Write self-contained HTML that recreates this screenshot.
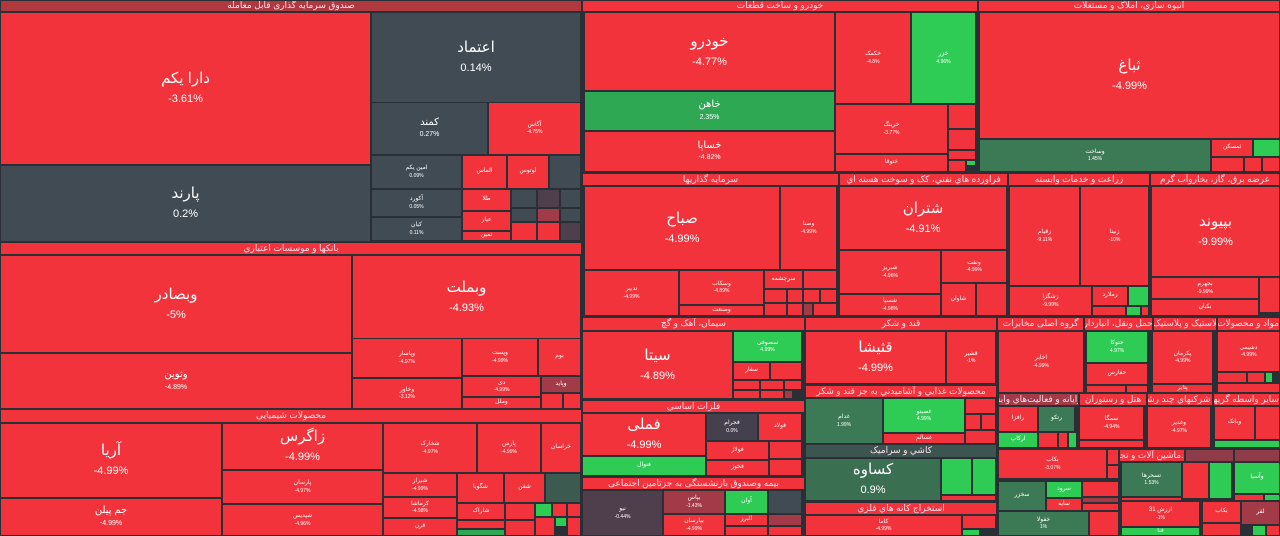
<!DOCTYPE html>
<html><head><meta charset="utf-8"><style>
body{margin:0;width:1280px;height:536px;background:#2a2f36;overflow:hidden;position:relative;font-family:"Liberation Sans","DejaVu Sans",sans-serif}
.c{position:absolute;box-sizing:border-box;border:1px solid #2a2f36;color:#fff;display:flex;flex-direction:column;align-items:center;justify-content:center;text-align:center;overflow:hidden;line-height:1.25;white-space:nowrap}
.r{background:#f3333b}.g{background:#414b53}.G{background:#2ecc55}.d{background:#3b7a55}.m{background:#2fa854}.p{background:#a33a47}.q{background:#4f3f4c}.k{background:#3d5550}
.h{font-size:9px;color:#fde}
.b b{font-size:15px;font-weight:normal}.b i{font-size:11px;font-style:normal;margin-top:4px}
.n b{font-size:10px;font-weight:normal}.n i{font-size:7px;font-style:normal;margin-top:2px}
.s b{font-size:6px;font-weight:normal}.s i{font-size:5px;font-style:normal}
</style></head><body>
<!-- Funds -->
<div class="c h" style="left:0;top:0;width:582px;height:12px;background:#b0393f">صندوق سرمایه گذاری قابل معامله</div>
<div class="c r b" style="left:0;top:12px;width:371px;height:153px"><b>دارا یکم</b><i>-3.61%</i></div>
<div class="c g b" style="left:0;top:165px;width:371px;height:77px"><b>پارند</b><i>0.2%</i></div>
<div class="c g b" style="left:371px;top:12px;width:210px;height:91px"><b>اعتماد</b><i>0.14%</i></div>
<div class="c g n" style="left:371px;top:102px;width:117px;height:53px"><b>کمند</b><i>0.27%</i></div>
<div class="c r s" style="left:488px;top:102px;width:93px;height:53px"><b>آگاس</b><i>-4.75%</i></div>
<div class="c g s" style="left:371px;top:155px;width:91px;height:34px"><b>امین یکم</b><i>0.09%</i></div>
<div class="c g s" style="left:371px;top:189px;width:91px;height:28px"><b>آکورد</b><i>0.05%</i></div>
<div class="c g s" style="left:371px;top:217px;width:91px;height:24px"><b>کیان</b><i>0.11%</i></div>
<div class="c r s" style="left:462px;top:155px;width:45px;height:34px"><b>الماس</b></div>
<div class="c r s" style="left:507px;top:155px;width:42px;height:34px"><b>لوتوس</b></div>
<div class="c g" style="left:549px;top:155px;width:32px;height:34px"></div>
<div class="c r s" style="left:462px;top:189px;width:49px;height:22px"><b>طلا</b></div>
<div class="c r s" style="left:462px;top:211px;width:49px;height:20px"><b>عیار</b></div>
<div class="c r s" style="left:462px;top:231px;width:49px;height:10px"><b>ثمین</b></div>
<div class="c g" style="left:511px;top:189px;width:26px;height:19px"></div>
<div class="c q" style="left:537px;top:189px;width:23px;height:19px"></div>
<div class="c g" style="left:560px;top:189px;width:21px;height:19px"></div>
<div class="c g" style="left:511px;top:208px;width:26px;height:14px"></div>
<div class="c p" style="left:537px;top:208px;width:23px;height:14px"></div>
<div class="c g" style="left:560px;top:208px;width:21px;height:14px"></div>
<div class="c r" style="left:511px;top:222px;width:26px;height:19px"></div>
<div class="c r" style="left:537px;top:222px;width:23px;height:19px"></div>
<div class="c q" style="left:560px;top:222px;width:21px;height:19px"></div>
<!-- Banks -->
<div class="c r h" style="left:0;top:242px;width:582px;height:13px">بانکها و موسسات اعتباري</div>
<div class="c r b" style="left:0;top:255px;width:352px;height:98px"><b>وبصادر</b><i>-5%</i></div>
<div class="c r n" style="left:0;top:353px;width:352px;height:56px"><b>وتوین</b><i>-4.89%</i></div>
<div class="c r b" style="left:352px;top:255px;width:229px;height:84px"><b>وبملت</b><i>-4.93%</i></div>
<div class="c r s" style="left:352px;top:338px;width:110px;height:40px"><b>وپاسار</b><i>-4.97%</i></div>
<div class="c r s" style="left:352px;top:378px;width:110px;height:31px"><b>وخاور</b><i>-3.12%</i></div>
<div class="c r s" style="left:462px;top:338px;width:76px;height:38px"><b>وپست</b><i>-4.99%</i></div>
<div class="c r s" style="left:538px;top:338px;width:43px;height:38px"><b>بوم</b></div>
<div class="c r s" style="left:462px;top:376px;width:79px;height:21px"><b>دی</b><i>-4.99%</i></div>
<div class="c p s" style="left:541px;top:376px;width:40px;height:17px"><b>وپاید</b></div>
<div class="c r s" style="left:462px;top:397px;width:79px;height:12px"><b>وملل</b></div>
<div class="c r" style="left:541px;top:393px;width:22px;height:16px"></div>
<div class="c r" style="left:563px;top:393px;width:18px;height:16px"></div>
<!-- Chemicals -->
<div class="c r h" style="left:0;top:409px;width:582px;height:14px">محصولات شیمیایی</div>
<div class="c r b" style="left:0;top:423px;width:222px;height:75px"><b>آریا</b><i>-4.99%</i></div>
<div class="c r n" style="left:0;top:498px;width:222px;height:38px"><b>جم پیلن</b><i>-4.99%</i></div>
<div class="c r b" style="left:222px;top:423px;width:161px;height:47px"><b>زاگرس</b><i>-4.99%</i></div>
<div class="c r s" style="left:222px;top:470px;width:161px;height:34px"><b>پارسان</b><i>-4.97%</i></div>
<div class="c r s" style="left:222px;top:504px;width:161px;height:32px"><b>شپدیس</b><i>-4.96%</i></div>
<div class="c r s" style="left:383px;top:423px;width:94px;height:50px"><b>شخارک</b><i>-4.97%</i></div>
<div class="c r s" style="left:477px;top:423px;width:64px;height:50px"><b>پارس</b><i>-4.99%</i></div>
<div class="c r s" style="left:541px;top:423px;width:40px;height:50px"><b>خراسان</b></div>
<div class="c r s" style="left:383px;top:473px;width:74px;height:24px"><b>شیراز</b><i>-4.99%</i></div>
<div class="c r s" style="left:383px;top:497px;width:74px;height:21px"><b>کرماشا</b><i>-4.98%</i></div>
<div class="c r s" style="left:383px;top:518px;width:74px;height:18px"><b>قرن</b></div>
<div class="c r s" style="left:457px;top:473px;width:47px;height:30px"><b>شگویا</b></div>
<div class="c r s" style="left:504px;top:473px;width:41px;height:30px"><b>شفن</b></div>
<div class="c k" style="left:545px;top:473px;width:36px;height:30px;background:#3d5a50"></div>
<div class="c r s" style="left:457px;top:503px;width:48px;height:17px"><b>شاراک</b></div>
<div class="c r" style="left:457px;top:520px;width:48px;height:9px"></div>
<div class="c m" style="left:457px;top:529px;width:48px;height:7px"></div>
<div class="c r" style="left:505px;top:503px;width:30px;height:17px"></div>
<div class="c G" style="left:535px;top:503px;width:17px;height:14px"></div>
<div class="c r" style="left:552px;top:503px;width:15px;height:14px"></div>
<div class="c r" style="left:567px;top:503px;width:14px;height:14px"></div>
<div class="c r" style="left:505px;top:520px;width:30px;height:16px"></div>
<div class="c r" style="left:535px;top:517px;width:20px;height:19px"></div>
<div class="c G" style="left:555px;top:517px;width:12px;height:10px"></div>
<div class="c r" style="left:567px;top:517px;width:14px;height:19px"></div>
<!-- Auto -->
<div class="c r h" style="left:582px;top:0;width:396px;height:12px">خودرو و ساخت قطعات</div>
<div class="c r b" style="left:584px;top:12px;width:251px;height:79px"><b>خودرو</b><i>-4.77%</i></div>
<div class="c m n" style="left:584px;top:91px;width:251px;height:40px"><b>خاهن</b><i>2.35%</i></div>
<div class="c r n" style="left:584px;top:131px;width:251px;height:41px"><b>خساپا</b><i>-4.82%</i></div>
<div class="c r s" style="left:835px;top:12px;width:76px;height:92px"><b>خکمک</b><i>-4.8%</i></div>
<div class="c G s" style="left:911px;top:12px;width:65px;height:92px"><b>خزر</b><i>4.96%</i></div>
<div class="c r s" style="left:835px;top:104px;width:113px;height:50px"><b>خرینگ</b><i>-3.77%</i></div>
<div class="c r s" style="left:835px;top:154px;width:113px;height:18px"><b>ختوقا</b></div>
<div class="c r" style="left:948px;top:104px;width:28px;height:25px"></div>
<div class="c r" style="left:948px;top:129px;width:28px;height:21px"></div>
<div class="c r" style="left:948px;top:150px;width:28px;height:10px"></div>
<div class="c r" style="left:948px;top:160px;width:18px;height:12px"></div>
<div class="c G" style="left:966px;top:160px;width:10px;height:6px"></div>
<!-- Construction -->
<div class="c r h" style="left:978px;top:0;width:302px;height:12px">انبوه سازی، املاک و مستغلات</div>
<div class="c r b" style="left:979px;top:12px;width:301px;height:127px"><b>ثباغ</b><i>-4.99%</i></div>
<div class="c d s" style="left:979px;top:139px;width:232px;height:33px"><b>وساخت</b><i>1.45%</i></div>
<div class="c r s" style="left:1211px;top:139px;width:42px;height:18px"><b>ثمسکن</b></div>
<div class="c G" style="left:1253px;top:139px;width:27px;height:18px"></div>
<div class="c r" style="left:1211px;top:157px;width:33px;height:15px"></div>
<div class="c r" style="left:1244px;top:157px;width:18px;height:15px"></div>
<div class="c r" style="left:1262px;top:157px;width:18px;height:15px"></div>
<!-- Row 2 headers -->
<div class="c r h" style="left:582px;top:173px;width:257px;height:13px">سرمایه گذاریها</div>
<div class="c r h" style="left:839px;top:173px;width:169px;height:13px">فراورده هاي نفتي، کک و سوخت هسته اي</div>
<div class="c r h" style="left:1008px;top:173px;width:142px;height:13px">زراعت و خدمات وابسته</div>
<div class="c r h" style="left:1150px;top:173px;width:130px;height:13px">عرضه برق، گاز، بخاروآب گرم</div>
<div class="c r b" style="left:584px;top:186px;width:196px;height:84px"><b>صباح</b><i>-4.99%</i></div>
<div class="c r s" style="left:780px;top:186px;width:57px;height:84px"><b>وصنا</b><i>-4.99%</i></div>
<div class="c r s" style="left:584px;top:270px;width:95px;height:46px"><b>تدبیر</b><i>-4.99%</i></div>
<div class="c r s" style="left:679px;top:270px;width:85px;height:35px"><b>وسکاب</b><i>-4.89%</i></div>
<div class="c r s" style="left:679px;top:305px;width:85px;height:11px"><b>وصنعت</b></div>
<div class="c r s" style="left:764px;top:270px;width:39px;height:19px"><b>سرچشمه</b></div>
<div class="c r" style="left:803px;top:270px;width:34px;height:19px"></div>
<div class="c r" style="left:764px;top:289px;width:23px;height:14px"></div>
<div class="c r" style="left:787px;top:289px;width:16px;height:14px"></div>
<div class="c r" style="left:803px;top:289px;width:17px;height:14px"></div>
<div class="c r" style="left:820px;top:289px;width:17px;height:14px"></div>
<div class="c r" style="left:764px;top:303px;width:23px;height:13px"></div>
<div class="c r" style="left:787px;top:303px;width:16px;height:13px"></div>
<div class="c p" style="left:803px;top:303px;width:10px;height:13px"></div>
<div class="c r" style="left:813px;top:303px;width:24px;height:13px"></div>
<div class="c r b" style="left:839px;top:186px;width:168px;height:64px"><b>شتران</b><i>-4.91%</i></div>
<div class="c r s" style="left:839px;top:250px;width:102px;height:44px"><b>شبریز</b><i>-4.96%</i></div>
<div class="c r s" style="left:839px;top:294px;width:102px;height:22px"><b>شسپا</b><i>-4.98%</i></div>
<div class="c r s" style="left:941px;top:250px;width:66px;height:33px"><b>ونفت</b><i>-4.99%</i></div>
<div class="c r s" style="left:941px;top:283px;width:35px;height:33px"><b>شاوان</b></div>
<div class="c r" style="left:976px;top:283px;width:31px;height:33px"></div>
<div class="c r s" style="left:1009px;top:186px;width:71px;height:100px"><b>زقیام</b><i>-9.11%</i></div>
<div class="c r s" style="left:1080px;top:186px;width:69px;height:100px"><b>زبینا</b><i>-10%</i></div>
<div class="c r s" style="left:1009px;top:286px;width:83px;height:30px"><b>زشگزا</b><i>-9.99%</i></div>
<div class="c r s" style="left:1092px;top:286px;width:36px;height:20px"><b>زملارد</b></div>
<div class="c G" style="left:1128px;top:286px;width:21px;height:20px"></div>
<div class="c r" style="left:1092px;top:306px;width:34px;height:10px"></div>
<div class="c G" style="left:1126px;top:306px;width:15px;height:10px"></div>
<div class="c r" style="left:1141px;top:306px;width:8px;height:10px"></div>
<div class="c r b" style="left:1151px;top:186px;width:129px;height:91px"><b>بپیوند</b><i>-9.99%</i></div>
<div class="c r s" style="left:1151px;top:277px;width:108px;height:22px"><b>بجهرم</b><i>-9.99%</i></div>
<div class="c r s" style="left:1151px;top:299px;width:108px;height:17px"><b>بکیان</b></div>
<div class="c r" style="left:1259px;top:277px;width:21px;height:36px"></div>
<!-- Row 3 headers -->
<div class="c r h" style="left:582px;top:317px;width:223px;height:14px">سیمان، آهک و گچ</div>
<div class="c r h" style="left:805px;top:317px;width:192px;height:14px">قند و شکر</div>
<div class="c r h" style="left:997px;top:317px;width:87px;height:14px">گروه اصلی مخابرات</div>
<div class="c r h" style="left:1084px;top:317px;width:69px;height:14px">حمل ونقل، انبارداری...</div>
<div class="c r h" style="left:1153px;top:317px;width:64px;height:14px">لاستیک و پلاستیک</div>
<div class="c r h" style="left:1217px;top:317px;width:63px;height:14px">مواد و محصولات د...</div>
<div class="c r b" style="left:582px;top:331px;width:151px;height:68px"><b>سیتا</b><i>-4.89%</i></div>
<div class="c G s" style="left:733px;top:331px;width:69px;height:31px"><b>سصوفی</b><i>4.99%</i></div>
<div class="c r s" style="left:733px;top:362px;width:37px;height:18px"><b>سفار</b></div>
<div class="c r" style="left:770px;top:362px;width:32px;height:18px"></div>
<div class="c r" style="left:733px;top:380px;width:27px;height:10px"></div>
<div class="c r" style="left:760px;top:380px;width:24px;height:10px"></div>
<div class="c r" style="left:784px;top:380px;width:18px;height:10px"></div>
<div class="c r" style="left:733px;top:390px;width:27px;height:9px"></div>
<div class="c r" style="left:760px;top:390px;width:24px;height:9px"></div>
<div class="c p" style="left:784px;top:390px;width:9px;height:9px"></div>
<div class="c r h" style="left:582px;top:400px;width:223px;height:13px">فلزات اساسي</div>
<div class="c r b" style="left:582px;top:413px;width:124px;height:43px"><b>فملی</b><i>-4.99%</i></div>
<div class="c G s" style="left:582px;top:456px;width:124px;height:20px"><b>فنوال</b></div>
<div class="c q s" style="left:706px;top:413px;width:52px;height:28px;background:#45404d"><b>فجرام</b><i>0.0%</i></div>
<div class="c r s" style="left:758px;top:413px;width:44px;height:28px"><b>فولاد</b></div>
<div class="c r s" style="left:706px;top:441px;width:63px;height:19px"><b>فولاژ</b></div>
<div class="c r s" style="left:706px;top:460px;width:63px;height:16px"><b>فخوز</b></div>
<div class="c r" style="left:769px;top:441px;width:33px;height:18px"></div>
<div class="c r" style="left:769px;top:459px;width:33px;height:17px"></div>
<div class="c r h" style="left:582px;top:477px;width:223px;height:13px">بیمه وصندوق بازنشستگی به جزتامین اجتماعی</div>
<div class="c q s" style="left:582px;top:490px;width:81px;height:46px"><b>نیو</b><i>-0.44%</i></div>
<div class="c p s" style="left:663px;top:490px;width:62px;height:24px"><b>بپاس</b><i>-1.43%</i></div>
<div class="c r s" style="left:663px;top:514px;width:62px;height:22px"><b>بپارسان</b><i>-4.99%</i></div>
<div class="c G s" style="left:725px;top:490px;width:43px;height:24px"><b>آوان</b></div>
<div class="c g" style="left:768px;top:490px;width:34px;height:24px"></div>
<div class="c r s" style="left:725px;top:514px;width:43px;height:12px"><b>البرز</b></div>
<div class="c r" style="left:725px;top:526px;width:43px;height:10px"></div>
<div class="c p" style="left:768px;top:514px;width:34px;height:12px"></div>
<div class="c r" style="left:768px;top:526px;width:34px;height:10px"></div>
<div class="c r b" style="left:805px;top:331px;width:141px;height:53px"><b>قثیشا</b><i>-4.99%</i></div>
<div class="c r s" style="left:946px;top:331px;width:50px;height:53px"><b>قشیر</b><i>-1%</i></div>
<div class="c r h" style="left:805px;top:385px;width:192px;height:13px">محصولات غذایي و آشامیدني به جز قند و شکر</div>
<div class="c d s" style="left:805px;top:398px;width:78px;height:46px"><b>غدام</b><i>1.99%</i></div>
<div class="c G s" style="left:883px;top:398px;width:82px;height:35px"><b>غصینو</b><i>4.99%</i></div>
<div class="c r s" style="left:883px;top:433px;width:82px;height:11px"><b>غسالم</b></div>
<div class="c r" style="left:965px;top:398px;width:31px;height:16px"></div>
<div class="c r" style="left:965px;top:414px;width:16px;height:16px"></div>
<div class="c r" style="left:981px;top:414px;width:15px;height:16px"></div>
<div class="c r" style="left:965px;top:430px;width:31px;height:14px"></div>
<div class="c k h" style="left:805px;top:444px;width:192px;height:14px">کاشي و سرامیک</div>
<div class="c d b" style="left:805px;top:458px;width:136px;height:43px;background:#3b6f52"><b>کساوه</b><i>0.9%</i></div>
<div class="c G" style="left:941px;top:458px;width:31px;height:37px"></div>
<div class="c G" style="left:972px;top:458px;width:24px;height:37px"></div>
<div class="c r" style="left:941px;top:495px;width:55px;height:6px"></div>
<div class="c r h" style="left:805px;top:502px;width:192px;height:13px">استخراج کانه هاي فلزي</div>
<div class="c r s" style="left:805px;top:515px;width:157px;height:21px"><b>کاما</b><i>-4.99%</i></div>
<div class="c r" style="left:962px;top:515px;width:34px;height:14px"></div>
<div class="c G" style="left:962px;top:529px;width:18px;height:7px"></div>
<div class="c r s" style="left:998px;top:331px;width:86px;height:62px"><b>اخابر</b><i>-4.99%</i></div>
<div class="c G s" style="left:1086px;top:331px;width:62px;height:32px"><b>حتوکا</b><i>4.97%</i></div>
<div class="c r s" style="left:1086px;top:363px;width:62px;height:22px"><b>حفارس</b></div>
<div class="c r" style="left:1086px;top:385px;width:40px;height:8px"></div>
<div class="c r" style="left:1126px;top:385px;width:22px;height:8px"></div>
<div class="c r s" style="left:1152px;top:331px;width:61px;height:53px"><b>پکرمان</b><i>-4.99%</i></div>
<div class="c r s" style="left:1152px;top:384px;width:61px;height:9px"><b>پتایر</b></div>
<div class="c r s" style="left:1217px;top:331px;width:63px;height:41px"><b>دشیمی</b><i>-4.99%</i></div>
<div class="c r" style="left:1217px;top:372px;width:30px;height:11px"></div>
<div class="c r" style="left:1247px;top:372px;width:18px;height:11px"></div>
<div class="c G" style="left:1265px;top:372px;width:8px;height:11px"></div>
<div class="c r" style="left:1217px;top:383px;width:63px;height:10px"></div>
<!-- row 4 headers -->
<div class="c p h" style="left:998px;top:393px;width:81px;height:13px">رایانه و فعالیت‌هاي وابسه...</div>
<div class="c r h" style="left:1079px;top:393px;width:68px;height:13px">هتل و رستوران</div>
<div class="c r h" style="left:1147px;top:393px;width:66px;height:13px">شرکتهاي چند رشته ...</div>
<div class="c r h" style="left:1213px;top:393px;width:67px;height:13px">سایر واسطه گریهاي ...</div>
<div class="c r s" style="left:998px;top:406px;width:40px;height:26px"><b>رافزا</b></div>
<div class="c d s" style="left:1038px;top:406px;width:37px;height:26px"><b>رتکو</b></div>
<div class="c G s" style="left:998px;top:432px;width:40px;height:16px"><b>ارکاپ</b></div>
<div class="c r" style="left:1038px;top:432px;width:20px;height:16px"></div>
<div class="c r" style="left:1058px;top:432px;width:10px;height:16px"></div>
<div class="c G" style="left:1068px;top:432px;width:9px;height:16px"></div>
<div class="c r s" style="left:1079px;top:406px;width:65px;height:34px"><b>سمگا</b><i>-4.94%</i></div>
<div class="c r" style="left:1079px;top:440px;width:65px;height:8px"></div>
<div class="c r s" style="left:1147px;top:406px;width:64px;height:42px"><b>وغدیر</b><i>-4.97%</i></div>
<div class="c r s" style="left:1214px;top:406px;width:41px;height:34px"><b>وبانک</b></div>
<div class="c r" style="left:1255px;top:406px;width:25px;height:34px"></div>
<div class="c G" style="left:1214px;top:440px;width:66px;height:8px"></div>
<div class="c r s" style="left:998px;top:449px;width:109px;height:30px"><b>بکاب</b><i>-3.07%</i></div>
<div class="c r" style="left:1107px;top:449px;width:12px;height:16px"></div>
<div class="c r" style="left:1107px;top:465px;width:12px;height:14px"></div>
<div class="c r h" style="left:1119px;top:449px;width:66px;height:13px">ماشین آلات و تجه...</div>
<div class="c p" style="left:1185px;top:449px;width:49px;height:13px;background:#8f3c4a"></div>
<div class="c p" style="left:1234px;top:449px;width:46px;height:13px;background:#8f3c4a"></div>
<div class="c d s" style="left:998px;top:481px;width:48px;height:30px"><b>سخزر</b></div>
<div class="c G s" style="left:1046px;top:481px;width:36px;height:17px"><b>سرود</b></div>
<div class="c r s" style="left:1046px;top:498px;width:36px;height:13px"><b>سایه</b></div>
<div class="c r" style="left:1082px;top:481px;width:37px;height:16px"></div>
<div class="c p" style="left:1082px;top:497px;width:37px;height:6px"></div>
<div class="c r" style="left:1082px;top:503px;width:37px;height:8px"></div>
<div class="c d s" style="left:998px;top:511px;width:91px;height:25px"><b>خفولا</b><i>1%</i></div>
<div class="c r" style="left:1089px;top:511px;width:30px;height:25px"></div>
<div class="c d s" style="left:1121px;top:462px;width:61px;height:35px"><b>تسحرها</b><i>1.53%</i></div>
<div class="c r" style="left:1121px;top:497px;width:61px;height:4px"></div>
<div class="c r" style="left:1182px;top:462px;width:27px;height:37px"></div>
<div class="c G" style="left:1209px;top:462px;width:23px;height:37px"></div>
<div class="c G s" style="left:1234px;top:462px;width:46px;height:32px"><b>وآسیا</b></div>
<div class="c r" style="left:1234px;top:494px;width:30px;height:7px"></div>
<div class="c G" style="left:1264px;top:494px;width:16px;height:7px"></div>
<div class="c r s" style="left:1121px;top:501px;width:79px;height:26px"><b>ارزش 31</b><i>-1%</i></div>
<div class="c G s" style="left:1121px;top:527px;width:79px;height:9px"><b>فنا</b></div>
<div class="c r s" style="left:1202px;top:501px;width:39px;height:22px"><b>بکاب</b></div>
<div class="c p s" style="left:1241px;top:501px;width:39px;height:24px"><b>لقر</b></div>
<div class="c r" style="left:1202px;top:523px;width:39px;height:13px"></div>
<div class="c G" style="left:1252px;top:525px;width:14px;height:11px"></div>
<div class="c r" style="left:1266px;top:525px;width:14px;height:11px"></div>
</body></html>
